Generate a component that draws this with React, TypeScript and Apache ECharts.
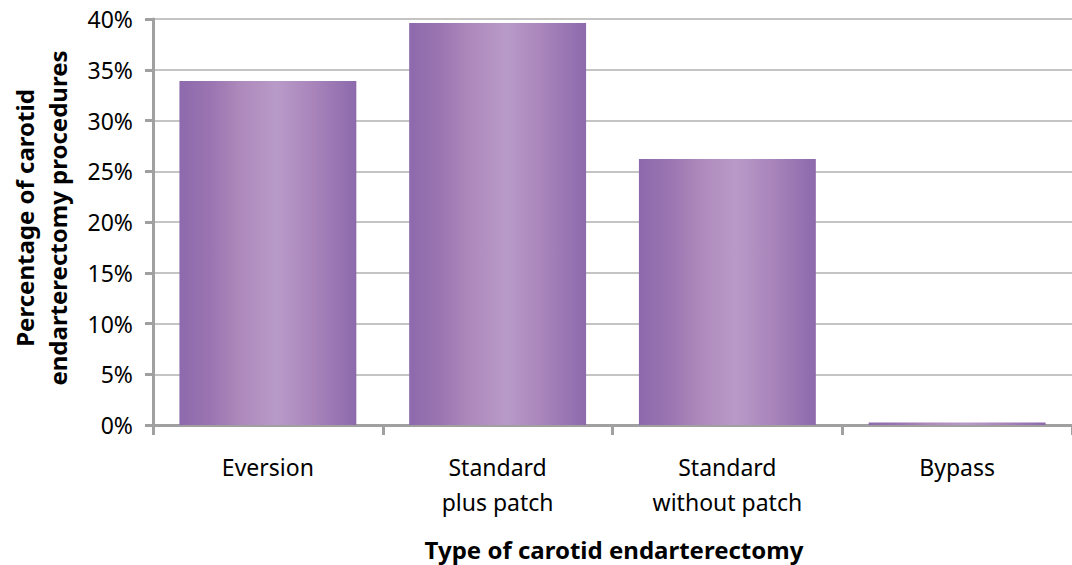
import React, { useEffect, useRef } from "react";
import * as echarts from "echarts";

const categories = ["Eversion", "Standard\nplus patch", "Standard\nwithout patch", "Bypass"];
const values = [33.9, 39.6, 26.2, 0.25];
const yTicks = { min: 0, max: 40, interval: 5 };
const yAxisTitle = "Percentage of carotid\nendarterectomy procedures";
const xAxisTitle = "Type of carotid endarterectomy";

const FONT = "'Noto Sans', 'Open Sans', sans-serif";

export default function App() {
  const ref = useRef<HTMLDivElement>(null);
  useEffect(() => {
    if (!ref.current) return;
    const chart = echarts.init(ref.current, undefined, { renderer: "svg" });
    const grad = new echarts.graphic.LinearGradient(0, 0, 1, 0, [
      { offset: 0, color: "#8d6aad" },
      { offset: 0.18, color: "#9b75b1" },
      { offset: 0.35, color: "#ae8abc" },
      { offset: 0.55, color: "#b89ac8" },
      { offset: 0.75, color: "#a985bb" },
      { offset: 1, color: "#8c6aac" },
    ]);
    chart.setOption({
      animation: false,
      textStyle: { fontFamily: FONT },
      grid: { left: 153, right: -4, top: 19, bottom: 140, containLabel: false },
      xAxis: {
        type: "category",
        data: categories,
        axisLine: { show: true, lineStyle: { color: "#a0a0a0", width: 3 } },
        axisTick: { show: true, length: 10, lineStyle: { color: "#a0a0a0", width: 3 } },
        axisLabel: { color: "#000", fontSize: 23, lineHeight: 35, margin: 24, fontFamily: FONT, interval: 0 },
      },
      yAxis: {
        type: "value",
        min: yTicks.min,
        max: yTicks.max,
        interval: yTicks.interval,
        axisLine: { show: true, lineStyle: { color: "#a0a0a0", width: 3 } },
        axisTick: { show: true, length: 8, lineStyle: { color: "#a0a0a0", width: 3 } },
        axisLabel: { color: "#000", fontSize: 23, margin: 20, formatter: "{value}%", fontFamily: FONT },
        splitLine: { show: true, lineStyle: { color: "#c4c4c4", width: 2 } },
      },
      series: [
        {
          type: "bar",
          data: values,
          barWidth: "77%",
          itemStyle: { color: grad },
        },
      ],
      graphic: [
        {
          type: "text",
          x: 41,
          y: 218,
          rotation: Math.PI / 2,
          style: {
            text: yAxisTitle,
            fontSize: 24,
            fontWeight: "bold",
            fontFamily: FONT,
            fill: "#000",
            align: "center",
            verticalAlign: "middle",
            lineHeight: 33,
          },
        },
        {
          type: "text",
          x: 614,
          y: 549,
          style: {
            text: xAxisTitle,
            fontSize: 24,
            fontWeight: "bold",
            fontFamily: FONT,
            fill: "#000",
            align: "center",
            verticalAlign: "middle",
          },
        },
      ],
    });
    return () => chart.dispose();
  }, []);
  return (
    <div
      ref={ref}
      style={{ position: "fixed", left: 0, top: 0, width: 1072, height: 565, background: "#fff" }}
    />
  );
}
